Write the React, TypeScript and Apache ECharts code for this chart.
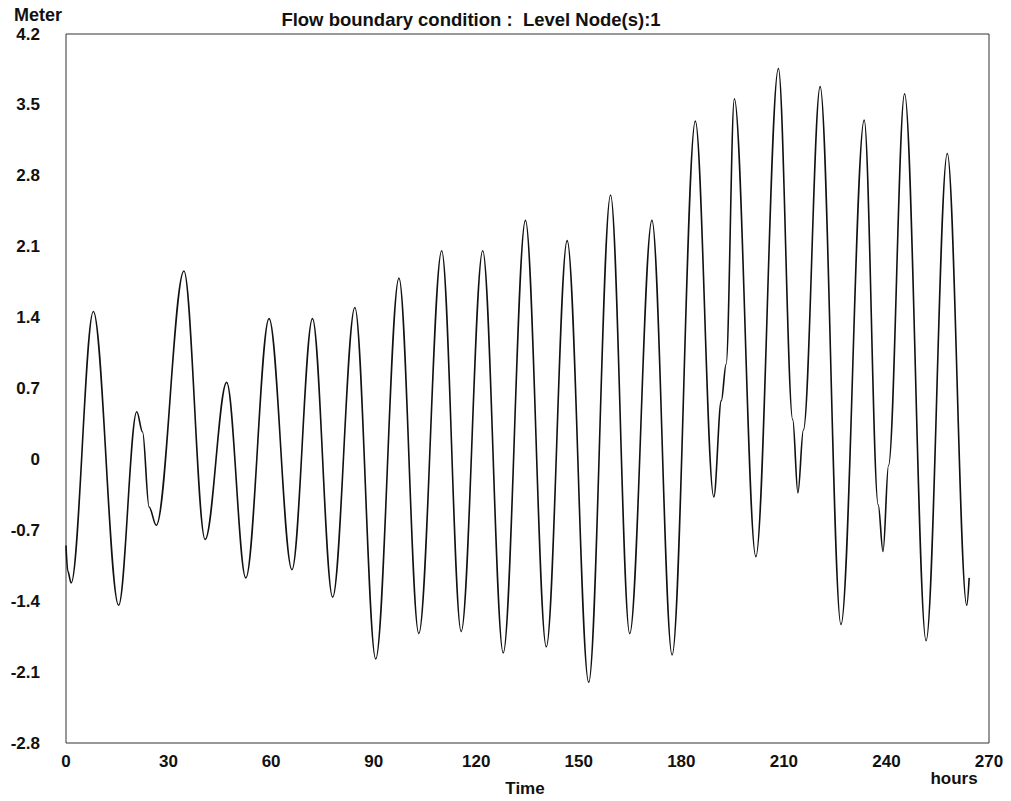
import React, { useEffect, useRef } from "react";
import * as echarts from "echarts";

// Time in hours and water level in metres
const hours = [
  0, 0.5, 1.5, 8.0, 15.4, 20.7, 22.4, 24.3, 26.4, 34.5, 40.7, 47.0, 52.6, 59.4,
  66.1, 72.1, 78.0, 84.5, 90.6, 97.4, 103.2, 109.9, 115.6, 121.9, 127.9, 134.4,
  140.5, 146.6, 152.9, 159.3, 164.9, 171.4, 177.3, 184.1, 189.5, 191.7, 193.1,
  195.5, 201.8, 208.4, 212.6, 214.1, 215.7, 220.6, 226.7, 233.5, 237.6, 239.0,
  240.6, 245.3, 251.6, 257.8, 263.5, 264.2,
];
const level = [
  -0.85, -1.1, -1.22, 1.46, -1.44, 0.47, 0.27, -0.47, -0.65, 1.86, -0.79, 0.76,
  -1.17, 1.39, -1.09, 1.39, -1.36, 1.5, -1.97, 1.79, -1.72, 2.06, -1.7, 2.06,
  -1.91, 2.36, -1.85, 2.16, -2.2, 2.61, -1.72, 2.36, -1.93, 3.34, -0.37, 0.58,
  0.94, 3.56, -0.96, 3.86, 0.39, -0.33, 0.29, 3.68, -1.63, 3.35, -0.45, -0.91,
  -0.06, 3.61, -1.79, 3.02, -1.44, -1.17,
];

const yMin = -2.8;
const yMax = 4.2;
const yStep = 0.7;
const xMin = 0;
const xMax = 270;
const xStep = 30;

const titleText = "Flow boundary condition :  Level Node(s):1";
const yName = "Meter";
const xName = "Time";
const xUnit = "hours";

const FONT = "'Liberation Sans', Arial, sans-serif";

export default function App() {
  const ref = useRef<HTMLDivElement>(null);

  useEffect(() => {
    if (!ref.current) return;
    const chart = echarts.init(ref.current, null, { renderer: "svg" });
    const data = hours.map((h, i) => [h, level[i]]);
    const labelStyle = {
      fontFamily: FONT,
      fontWeight: "bold" as const,
      fontSize: 17,
      lineHeight: 16,
      color: "#111",
    };
    chart.setOption({
      animation: false,
      backgroundColor: "#ffffff",
      grid: { left: 66, right: 22, top: 34, bottom: 58, show: true, borderColor: "#333", borderWidth: 1, backgroundColor: "transparent" },
      xAxis: {
        type: "value",
        min: xMin,
        max: xMax,
        interval: xStep,
        axisLine: { show: false },
        axisTick: { show: false },
        splitLine: { show: false },
        axisLabel: { ...labelStyle, margin: 10 },
      },
      yAxis: {
        type: "value",
        min: yMin,
        max: yMax,
        interval: yStep,
        axisLine: { show: false },
        axisTick: { show: false },
        splitLine: { show: false },
        axisLabel: {
          ...labelStyle,
          margin: 26,
          formatter: (v: number) => {
            const r = Math.round(v * 10) / 10;
            return (Object.is(r, -0) ? 0 : r).toString();
          },
        },
      },
      series: [
        {
          type: "line",
          data,
          showSymbol: false,
          smooth: 0.35,
          smoothMonotone: "x",
          lineStyle: { color: "#111", width: 1.6 },
        },
      ],
      graphic: [
        { type: "text", x: 14, y: 15, style: { text: yName, fill: "#111", font: `bold 18px ${FONT}`, lineHeight: 14, verticalAlign: "middle" } },
        { type: "text", x: 471, y: 19, style: { text: titleText, fill: "#111", font: `bold 18.5px ${FONT}`, align: "center", verticalAlign: "middle" } },
        { type: "text", x: 954, y: 778, style: { text: xUnit, fill: "#111", font: `bold 17px ${FONT}`, align: "center", verticalAlign: "middle" } },
        { type: "text", x: 525, y: 788, style: { text: xName, fill: "#111", font: `bold 17px ${FONT}`, align: "center", verticalAlign: "middle" } },
      ],
    });
    return () => chart.dispose();
  }, []);

  return (
    <div
      ref={ref}
      style={{ position: "fixed", left: 0, top: 0, width: 1011, height: 801, background: "#fff" }}
    />
  );
}
